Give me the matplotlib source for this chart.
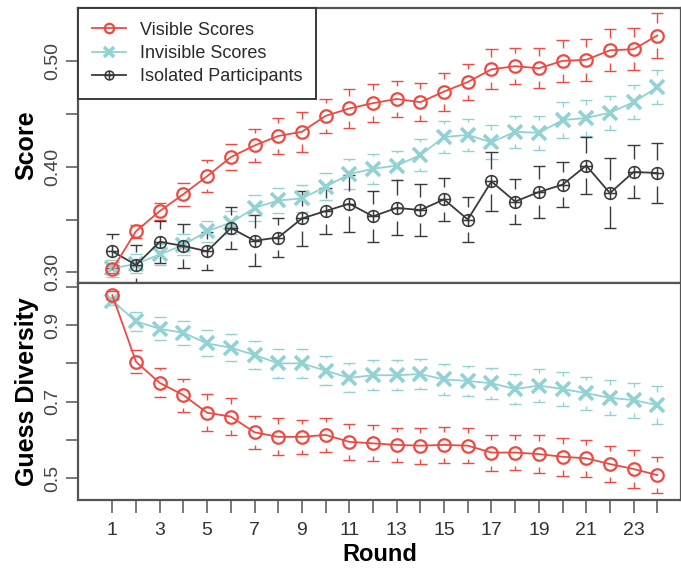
import numpy as np
import matplotlib
matplotlib.use("Agg")
import matplotlib.pyplot as plt
from matplotlib.path import Path

plt.rcParams["font.family"] = ["Liberation Sans", "DejaVu Sans"]

# ---- data ----
rounds = [1, 2, 3, 4, 5, 6, 7, 8, 9, 10, 11, 12,
          13, 14, 15, 16, 17, 18, 19, 20, 21, 22, 23, 24]
round_labels = ["1", "3", "5", "7", "9", "11", "13", "15", "17", "19", "21", "23"]

score_visible = [0.303, 0.339, 0.358, 0.374, 0.391, 0.409, 0.420, 0.429, 0.433, 0.448, 0.455, 0.460,
                 0.464, 0.461, 0.471, 0.480, 0.492, 0.495, 0.493, 0.500, 0.501, 0.510, 0.511, 0.524]
score_visible_err = [0.004, 0.006, 0.008, 0.011, 0.015, 0.012, 0.016, 0.017, 0.019, 0.016, 0.018, 0.018,
                     0.017, 0.018, 0.018, 0.017, 0.019, 0.017, 0.019, 0.020, 0.020, 0.020, 0.020, 0.021]

score_invisible = [0.304, 0.308, 0.317, 0.326, 0.339, 0.347, 0.361, 0.368, 0.370, 0.381, 0.393, 0.398,
                   0.401, 0.411, 0.428, 0.430, 0.423, 0.433, 0.432, 0.444, 0.446, 0.451, 0.461, 0.475]
score_invisible_err = [0.008, 0.009, 0.010, 0.010, 0.010, 0.011, 0.012, 0.012, 0.013, 0.013, 0.014, 0.014,
                       0.014, 0.015, 0.015, 0.015, 0.016, 0.015, 0.016, 0.017, 0.017, 0.016, 0.016, 0.016]

score_isolated = [0.320, 0.307, 0.329, 0.325, 0.320, 0.342, 0.330, 0.333, 0.351, 0.358, 0.365, 0.353,
                  0.361, 0.359, 0.369, 0.350, 0.386, 0.367, 0.376, 0.383, 0.401, 0.375, 0.395, 0.394]
score_isolated_err = [0.016, 0.019, 0.020, 0.021, 0.018, 0.020, 0.024, 0.018, 0.026, 0.022, 0.027, 0.024,
                      0.026, 0.025, 0.020, 0.021, 0.028, 0.021, 0.025, 0.021, 0.027, 0.033, 0.025, 0.028]

div_visible = [0.978, 0.804, 0.749, 0.717, 0.671, 0.661, 0.620, 0.608, 0.608, 0.613, 0.595, 0.591,
               0.587, 0.585, 0.587, 0.585, 0.567, 0.567, 0.563, 0.556, 0.552, 0.537, 0.524, 0.508]
div_visible_err = [0.010, 0.030, 0.038, 0.043, 0.048, 0.049, 0.043, 0.048, 0.044, 0.045, 0.047, 0.047,
                   0.045, 0.047, 0.047, 0.045, 0.047, 0.046, 0.049, 0.050, 0.048, 0.047, 0.050, 0.048]

div_invisible = [0.963, 0.910, 0.890, 0.880, 0.852, 0.841, 0.822, 0.800, 0.800, 0.781, 0.762, 0.769,
                 0.769, 0.772, 0.758, 0.754, 0.748, 0.733, 0.742, 0.733, 0.722, 0.710, 0.704, 0.691]
div_invisible_err = [0.010, 0.025, 0.030, 0.032, 0.034, 0.035, 0.036, 0.037, 0.038, 0.038, 0.038, 0.039,
                     0.039, 0.039, 0.040, 0.040, 0.041, 0.039, 0.042, 0.044, 0.043, 0.046, 0.046, 0.049]

RED = "#EE4A42"
TEAL = "#93D2D2"
DARK = "#3a3a3a"
SPINE = "#555555"

# circle with a plus inside (R pch = 10)
circ_plus = Path.make_compound_path(
    Path.unit_circle(),
    Path([[-1, 0], [1, 0], [0, -1], [0, 1]],
         [Path.MOVETO, Path.LINETO, Path.MOVETO, Path.LINETO]),
)


def ci(ax, x, y, err, gap, color, lw=1.0, cap=0.26):
    """plotCI-style bars: stems leave a gap round the point, flat caps at the ends."""
    x, y, err = np.asarray(x, float), np.asarray(y, float), np.asarray(err, float)
    hi, lo = y + err, y - err
    m = err > gap
    ax.vlines(x[m], (y + gap)[m], hi[m], color=color, lw=lw, zorder=2)
    ax.vlines(x[m], lo[m], (y - gap)[m], color=color, lw=lw, zorder=2)
    ax.hlines(hi, x - cap, x + cap, color=color, lw=lw, zorder=2)
    ax.hlines(lo, x - cap, x + cap, color=color, lw=lw, zorder=2)


fig = plt.figure(figsize=(6.81, 5.72), dpi=100)
ax1 = fig.add_axes([78 / 681, 1 - 283 / 572, 1 - 78 / 681, 275 / 572])
ax2 = fig.add_axes([78 / 681, 1 - 500 / 572, 1 - 78 / 681, 217 / 572])

# ---- top: score ----
ci(ax1, rounds, score_visible, score_visible_err, 0.012, RED)
ci(ax1, rounds, score_invisible, score_invisible_err, 0.012, TEAL)
ci(ax1, rounds, score_isolated, score_isolated_err, 0.012, DARK)
ax1.plot(rounds, score_visible, color=RED, lw=1.3, marker="o", ms=9, mfc="none",
         mew=1.6, label="Visible Scores", zorder=4)
ax1.plot(rounds, score_invisible, color=TEAL, lw=1.3, marker="x", ms=10,
         mew=2.6, label="Invisible Scores", zorder=3)
ax1.plot(rounds, score_isolated, color=DARK, lw=1.3, marker=circ_plus, ms=8.5, mfc="none",
         mew=1.1, label="Isolated Participants", zorder=3)

ax1.set_xlim(-0.45, 25.0)
ax1.set_ylim(0.29, 0.55)
ax1.set_yticks([0.30, 0.35, 0.40, 0.45, 0.50])
ax1.set_yticklabels(["0.30", "", "0.40", "", "0.50"])
ax1.set_xticks([])
ax1.set_ylabel("Score", fontsize=18, fontweight="bold", labelpad=4)

leg = ax1.legend(loc="upper left", bbox_to_anchor=(0, 1), borderaxespad=0, fontsize=13,
                 frameon=True, fancybox=False, framealpha=1, edgecolor=DARK,
                 handlelength=1.9, handletextpad=0.8, borderpad=0.75, labelspacing=0.35,
                 markerscale=0.75)
leg.get_frame().set_linewidth(1.4)
for t in leg.get_texts():
    t.set_color("#2a2a2a")

# ---- bottom: guess diversity ----
ci(ax2, rounds, div_visible, div_visible_err, 0.034, RED)
ci(ax2, rounds, div_invisible, div_invisible_err, 0.034, TEAL)
ax2.plot(rounds, div_invisible, color=TEAL, lw=1.3, marker="x", ms=10, mew=2.6, zorder=3)
ax2.plot(rounds, div_visible, color=RED, lw=1.3, marker="o", ms=9, mfc="none", mew=1.6, zorder=4)

ax2.set_xlim(-0.45, 25.0)
ax2.set_ylim(0.443, 1.01)
ax2.set_yticks([0.5, 0.6, 0.7, 0.8, 0.9, 1.0])
ax2.set_yticklabels(["0.5", "", "0.7", "", "0.9", ""])
ax2.set_xticks(rounds)
ax2.set_xticklabels([str(r) if str(r) in round_labels else "" for r in rounds])
ax2.set_xlabel("Round", fontsize=17, fontweight="bold", labelpad=3)
ax2.set_ylabel("Guess Diversity", fontsize=18, fontweight="bold", labelpad=4)

for ax in (ax1, ax2):
    for s in ax.spines.values():
        s.set_color(SPINE)
        s.set_linewidth(1.6)
    ax.tick_params(axis="y", direction="out", length=9, width=1.1, color=SPINE,
                   labelsize=14, labelcolor="#444444", pad=3)
    for lab in ax.get_yticklabels():
        lab.set_rotation(90)
        lab.set_va("center")
ax2.tick_params(axis="x", direction="out", length=9, width=1.1, color=SPINE,
                labelsize=14, labelcolor="#333333", pad=7)

fig.savefig("out.png", dpi=100)
